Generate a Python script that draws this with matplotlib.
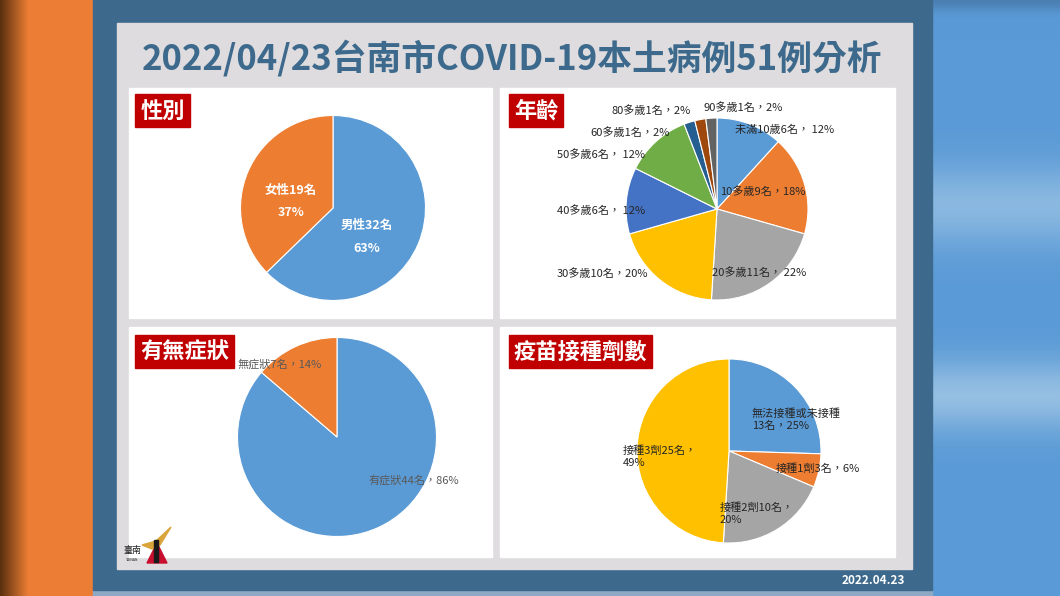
import matplotlib
matplotlib.use("Agg")
import numpy as np
import matplotlib.pyplot as plt
from matplotlib.patches import Rectangle, Polygon
from matplotlib.colors import to_rgb

plt.rcParams['font.family'] = ['Noto Sans CJK TC', 'DejaVu Sans']

# data
title = "2022/04/23台南市COVID-19本土病例51例分析"

sex_labels = ["男性32名", "女性19名"]
sex_counts = [32, 19]

age_labels = ["未滿10歲6名， 12%", "10多歲9名，18%", "20多歲11名， 22%", "30多歲10名，20%",
              "40多歲6名， 12%", "50多歲6名， 12%", "60多歲1名，2%", "80多歲1名，2%", "90多歲1名，2%"]
age_counts = [6, 9, 11, 10, 6, 6, 1, 1, 1]

sym_labels = ["有症狀44名，86%", "無症狀7名，14%"]
sym_counts = [44, 7]

vac_labels = ["無法接種或未接種\n13名，25%", "接種1劑3名，6%", "接種2劑10名，\n20%", "接種3劑25名，\n49%"]
vac_counts = [13, 3, 10, 25]

# styles
W, H = 1060, 596
office = ['#5b9bd5', '#ed7d31', '#a5a5a5', '#ffc000', '#4472c4', '#70ad47', '#255e91', '#9e480e', '#636363']
navy = '#3d6a8c'

fig = plt.figure(figsize=(W / 100, H / 100), dpi=100)
bg = fig.add_axes([0, 0, 1, 1])
bg.set_xlim(0, W)
bg.set_ylim(H, 0)
bg.axis('off')

# backdrop: orange strip on the left, darkening to brown at the edge
xs = np.linspace(0, 1, 93)
t = np.clip(xs / 0.3, 0, 1)[None, :, None]
left = np.array(to_rgb('#5a300f')) * (1 - t) + np.array(to_rgb('#ec7d34')) * t
bg.imshow(np.repeat(left, 2, axis=0), extent=[0, 93, H, 0], aspect='auto', zorder=0)

# blurred blue strip on the right
ys = np.arange(H)
glow = 0.45 * np.exp(-((ys - 205) / 40.0) ** 2) + 0.55 * np.exp(-((ys - 395) / 35.0) ** 2)
dark = 0.35 * np.exp(-(ys / 10.0) ** 2)
base = np.array(to_rgb('#5a9ad6'))
light = np.array(to_rgb('#c4dcec'))
col = base[None, :] * (1 - glow[:, None]) + light[None, :] * glow[:, None]
col = col * (1 - dark[:, None]) + np.array(to_rgb('#2f4f70'))[None, :] * dark[:, None]
right = np.repeat(col[:, None, :], 2, axis=1)
bg.imshow(right, extent=[932, W, H, 0], aspect='auto', zorder=0)
bg.set_xlim(0, W)
bg.set_ylim(H, 0)

bg.add_patch(Rectangle((93, 590), 839, 6, color='#8da9c4', zorder=1))
bg.add_patch(Rectangle((93, 0), 932 - 93, 590, color=navy, zorder=1))
bg.add_patch(Rectangle((117, 23), 795, 546, color='#dedcde', zorder=1))

# white panels
panels = [(129, 88, 363, 230), (500, 88, 395, 230), (129, 327, 363, 230), (500, 327, 395, 230)]
for x, y, w, h in panels:
    bg.add_patch(Rectangle((x, y), w, h, color='white', zorder=1))

bg.text(512, 58, title, ha='center', va='center', fontsize=25, fontweight='bold', color=navy)
bg.text(873, 580, "2022.04.23", ha='center', va='center', fontsize=8.5, fontweight='bold', color='white')

# red tags
tags = [("性別", 135, 94, 55), ("年齡", 509, 94, 54), ("有無症狀", 135, 335, 99), ("疫苗接種劑數", 509, 335, 143)]
for txt, x, y, w in tags:
    bg.add_patch(Rectangle((x, y), w, 33, color='#c00000', zorder=2))
    bg.text(x + w / 2, y + 17, txt, ha='center', va='center', fontsize=16,
            fontweight='bold', color='white')

# logo
bg.text(132, 551, "臺南", ha='center', va='center', fontsize=6.5, color='#222222')
bg.text(132, 560, "TAINAN", ha='center', va='center', fontsize=2.5, color='#222222')
bg.add_patch(Polygon([[147, 563], [157, 543], [167, 563]], color='#c8102e', zorder=2))
bg.add_patch(Polygon([[142, 545], [156, 541], [171, 527], [160, 545], [152, 549]], color='#d9a43a', zorder=2))
bg.add_patch(Rectangle((154, 540), 4, 22, color='#1a1a1a', zorder=3))


def pie_ax(cx, cy, r):
    ax = fig.add_axes([(cx - r) / W, 1 - (cy + r) / H, 2 * r / W, 2 * r / H])
    return ax


def finish(ax):
    ax.set_xlim(-1, 1)
    ax.set_ylim(-1, 1)
    ax.axis('off')


wp = dict(edgecolor='white', linewidth=0.8)

# sex
ax1 = pie_ax(333, 208, 92.5)
ax1.pie(sex_counts, colors=office[:2], startangle=90, counterclock=False, wedgeprops=wp)
finish(ax1)
for lab, pct, (x, y) in zip(sex_labels, ["63%", "37%"], [(367, 225), (291, 190)]):
    ax1.text(x, y, lab, transform=bg.transData, ha='center', va='center',
             fontsize=9, fontweight='bold', color='white')
    ax1.text(x, y + 23, pct, transform=bg.transData, ha='center', va='center',
             fontsize=9, fontweight='bold', color='white')

# age
ax2 = pie_ax(717, 209, 91)
ax2.pie(age_counts, colors=office, startangle=90, counterclock=False, wedgeprops=wp)
finish(ax2)
age_pos = [(735, 130), (720, 192), (712, 273), (557, 274), (557, 211), (557, 155),
           (590, 133), (612, 111), (704, 108)]
for lab, (x, y) in zip(age_labels, age_pos):
    ax2.text(x, y, lab, transform=bg.transData, ha='left', va='center',
             fontsize=8, color='#262626')

# symptoms
ax3 = pie_ax(337, 437, 99.5)
ax3.pie(sym_counts, colors=office[:2], startangle=90, counterclock=False, wedgeprops=wp)
finish(ax3)
for lab, (x, y) in zip(sym_labels, [(368, 480), (238, 364)]):
    ax3.text(x, y, lab, transform=bg.transData, ha='left', va='center',
             fontsize=8, color='#595959')

# vaccine
ax4 = pie_ax(729, 451, 92)
ax4.pie(vac_counts, colors=office[:4], startangle=90, counterclock=False, wedgeprops=wp)
finish(ax4)
for lab, (x, y) in zip(vac_labels, [(752, 420), (776, 469), (720, 514), (623, 457)]):
    ax4.text(x, y, lab, transform=bg.transData, ha='left', va='center',
             fontsize=8, color='#262626', linespacing=1.2)

fig.savefig("out.png", dpi=100)
